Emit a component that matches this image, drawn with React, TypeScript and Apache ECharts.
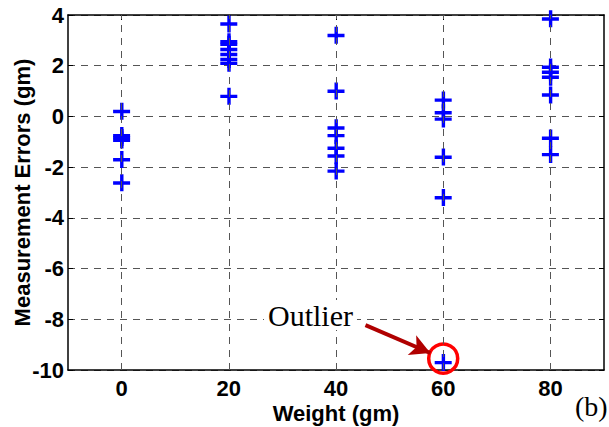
import React, { useEffect, useRef } from "react";
import * as echarts from "echarts";

// ---- data ----
const weights = [0, 20, 40, 60, 80];
const errorsAt0 = [0.2, -0.75, -0.83, -0.93, -1.7, -2.62];
const errorsAt20 = [3.65, 2.95, 2.85, 2.65, 2.45, 2.25, 2.1, 0.8];
const errorsAt40 = [3.2, 1.0, -0.45, -0.75, -1.25, -1.55, -2.15];
const errorsAt60 = [0.65, 0.15, -0.1, -1.6, -3.2, -9.7];
const errorsAt80 = [3.85, 1.95, 1.75, 1.55, 0.85, -0.85, -1.5];
const errorGroups = [errorsAt0, errorsAt20, errorsAt40, errorsAt60, errorsAt80];

const xTickValues = [0, 20, 40, 60, 80];
const xRange = [-10, 90];
const yRange = [-10, 4];
const yInterval = 2;

const outlierCircle = [60, -9.55];
const arrowStart = [45.5, -8.23];
const arrowEnd = [57.6, -9.33];

const xTitle = "Weight (gm)";
const yTitle = "Measurement Errors (gm)";
const annotationText = "Outlier";
const panelText = "(b)";

const SANS = '"Liberation Sans", Arial, sans-serif';
const SERIF = '"Liberation Serif", "Times New Roman", serif';
const PLUS = "path://M0,7H7V0h3.4v7H17v3.4H10.4V17H7V10.4H0z";

export default function App() {
  const ref = useRef<HTMLDivElement>(null);
  useEffect(() => {
    if (!ref.current) return;
    const chart = echarts.init(ref.current, null, { renderer: "svg" });
    const points: number[][] = [];
    weights.forEach((w, i) => errorGroups[i].forEach((e) => points.push([w, e])));

    const gridDash = { color: "#555", width: 1, type: [7, 6] as number[] };

    chart.setOption({
      animation: false,
      backgroundColor: "#fff",
      grid: { left: 68, right: 5, top: 15, bottom: 57, containLabel: false, outerBoundsMode: "none" },
      xAxis: [
        {
          type: "value",
          min: xRange[0],
          max: xRange[1],
          name: xTitle,
          nameLocation: "middle",
          nameGap: 32,
          nameMoveOverlap: false,
          nameTextStyle: { fontFamily: SANS, fontWeight: "bold", fontSize: 22, color: "#000" },
          axisLine: { show: true, onZero: false, lineStyle: { color: "#000", width: 1.5 } },
          axisTick: { show: true, inside: true, length: 5, customValues: xTickValues, lineStyle: { color: "#000" } },
          axisLabel: {
            show: true,
            customValues: xTickValues,
            margin: 7,
            fontFamily: SANS,
            fontWeight: "bold",
            fontSize: 22,
            color: "#000",
          },
          splitLine: { show: false },
        },
        {
          type: "value",
          position: "top",
          min: xRange[0],
          max: xRange[1],
          axisLine: { show: true, onZero: false, lineStyle: { color: "#000", width: 1.5 } },
          axisTick: { show: true, inside: true, length: 5, customValues: xTickValues, lineStyle: { color: "#000" } },
          axisLabel: { show: false },
          splitLine: { show: false },
        },
      ],
      yAxis: [
        {
          type: "value",
          min: yRange[0],
          max: yRange[1],
          interval: yInterval,
          name: yTitle,
          nameLocation: "middle",
          nameGap: 35,
          nameMoveOverlap: false,
          nameTextStyle: { fontFamily: SANS, fontWeight: "bold", fontSize: 22, color: "#000" },
          axisLine: { show: true, onZero: false, lineStyle: { color: "#000", width: 1.5 } },
          axisTick: { show: true, inside: true, length: 5, lineStyle: { color: "#000" } },
          axisLabel: { margin: 4, fontFamily: SANS, fontWeight: "bold", fontSize: 22, color: "#000" },
          splitLine: { show: true, lineStyle: gridDash },
        },
        {
          type: "value",
          position: "right",
          min: yRange[0],
          max: yRange[1],
          interval: yInterval,
          axisLine: { show: true, onZero: false, lineStyle: { color: "#000", width: 1.5 } },
          axisTick: { show: true, inside: true, length: 5, lineStyle: { color: "#000" } },
          axisLabel: { show: false },
          splitLine: { show: false },
        },
      ],
      series: [
        {
          type: "line",
          data: [],
          silent: true,
          markLine: {
            silent: true,
            symbol: "none",
            label: { show: false },
            lineStyle: gridDash,
            data: xTickValues.map((v) => ({ xAxis: v })),
          },
        },
        {
          type: "scatter",
          data: points,
          symbol: PLUS,
          symbolSize: 17,
          itemStyle: { color: "#0000ff", opacity: 1 },
          z: 3,
        },
        {
          type: "scatter",
          data: [outlierCircle],
          symbol: "circle",
          symbolSize: 29,
          itemStyle: { color: "transparent", borderColor: "#ff0000", borderWidth: 3.5, opacity: 1 },
          z: 4,
          markLine: {
            silent: true,
            label: { show: false },
            symbolSize: [16, 20],
            lineStyle: { color: "#b00000", width: 4, type: "solid" },
            data: [
              [
                { coord: arrowStart, symbol: "none" },
                { coord: arrowEnd, symbol: "arrow" },
              ],
            ],
          },
        },
      ],
      graphic: [
        {
          type: "text",
          left: 264,
          top: 300,
          z: 10,
          style: {
            text: annotationText,
            font: `30px ${SERIF}`,
            fill: "#000",
            backgroundColor: "#fff",
            padding: [0, 4],
          },
        },
        {
          type: "text",
          left: 575,
          top: 392,
          z: 10,
          style: { text: panelText, font: `28px ${SERIF}`, fill: "#000" },
        },
      ],
    });
    return () => chart.dispose();
  }, []);
  return (
    <div
      ref={ref}
      style={{ position: "fixed", left: 0, top: 0, width: 609, height: 427, background: "#fff" }}
    />
  );
}
